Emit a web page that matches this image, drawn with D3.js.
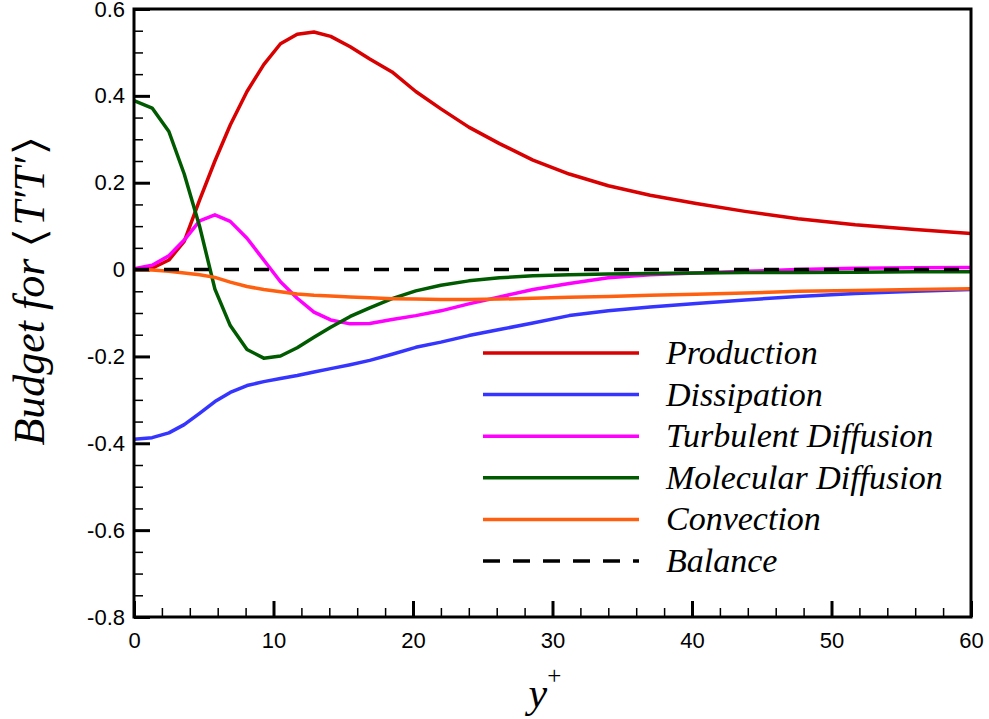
<!DOCTYPE html>
<html>
<head>
<meta charset="utf-8">
<script src="https://cdn.jsdelivr.net/npm/d3@7"></script>
<style>
  html, body { margin: 0; padding: 0; background: #fff; }
  svg { display: block; }
</style>
</head>
<body>
<svg id="chart" width="989" height="719"></svg>
<script>
// Wall-normal positions (y+) shared by all budget terms
const yPlus = [0, 1.3, 2.5, 3.6, 4.7, 5.8, 6.9, 8.1, 9.3, 10.5, 11.7, 12.9, 14.1, 15.5, 16.9,
  18.5, 20.2, 22, 24, 26.2, 28.6, 31.2, 34, 37, 40.3, 43.8, 47.6, 51.7, 56, 60];

// Budget terms for <T'T'>
const production = [0, 0.003, 0.022, 0.065, 0.16, 0.25, 0.333, 0.41, 0.472, 0.52, 0.542, 0.547, 0.537,
  0.513, 0.485, 0.455, 0.41, 0.37, 0.328, 0.29, 0.252, 0.22, 0.193, 0.171, 0.152, 0.134, 0.117, 0.103, 0.092, 0.083];
const dissipation = [-0.391, -0.387, -0.376, -0.357, -0.331, -0.304, -0.283, -0.267, -0.258, -0.251, -0.244,
  -0.236, -0.228, -0.219, -0.209, -0.195, -0.179, -0.167, -0.152, -0.138, -0.123, -0.106, -0.095, -0.086,
  -0.078, -0.070, -0.062, -0.055, -0.050, -0.046];
const turbulentDiffusion = [0.002, 0.01, 0.032, 0.068, 0.112, 0.126, 0.111, 0.072, 0.022, -0.028, -0.066,
  -0.098, -0.116, -0.125, -0.124, -0.115, -0.106, -0.095, -0.079, -0.063, -0.046, -0.032, -0.019, -0.012,
  -0.008, -0.004, 0.0, 0.003, 0.004, 0.005];
const molecularDiffusion = [0.389, 0.372, 0.318, 0.22, 0.10, -0.045, -0.129, -0.184, -0.204, -0.199, -0.18,
  -0.156, -0.133, -0.108, -0.088, -0.067, -0.049, -0.036, -0.026, -0.019, -0.014, -0.012, -0.010, -0.009,
  -0.008, -0.007, -0.007, -0.006, -0.005, -0.005];
const convection = [0, -0.001, -0.004, -0.008, -0.012, -0.018, -0.029, -0.039, -0.046, -0.051, -0.056,
  -0.059, -0.061, -0.063, -0.065, -0.067, -0.068, -0.069, -0.069, -0.068, -0.066, -0.064, -0.062, -0.059,
  -0.057, -0.054, -0.050, -0.048, -0.046, -0.044];
const balance = [0, 0, 0, 0, 0, 0, 0, 0, 0, 0, 0, 0, 0, 0, 0, 0, 0, 0, 0, 0, 0, 0, 0, 0, 0, 0, 0, 0, 0, 0];

const seriesNames = ["Production", "Dissipation", "Turbulent Diffusion", "Molecular Diffusion", "Convection", "Balance"];
const seriesValues = [production, dissipation, turbulentDiffusion, molecularDiffusion, convection, balance];
const seriesColors = ["#d80000", "#3535ff", "#ff00ff", "#005a00", "#ff6010", "#000000"];

const xTickValues = [0, 10, 20, 30, 40, 50, 60];
const xTickLabels = ["0", "10", "20", "30", "40", "50", "60"];
const yTickValues = [-0.8, -0.6, -0.4, -0.2, 0, 0.2, 0.4, 0.6];
const yTickLabels = ["-0.8", "-0.6", "-0.4", "-0.2", "0", "0.2", "0.4", "0.6"];

const plot = { left: 134, right: 971, top: 9, bottom: 617 };
const SERIF = '"Liberation Serif", "Times New Roman", Times, serif';
const SANS = '"Liberation Sans", Arial, Helvetica, sans-serif';

const svg = d3.select("#chart");
const x = d3.scaleLinear().domain([0, 60]).range([plot.left, plot.right]);
const y = d3.scaleLinear().domain([-0.8, 0.6]).range([plot.bottom, plot.top]);

// Minor ticks: every 2 in y+, every 0.05 in the budget
const xMinor = d3.range(0, 60.001, 2).filter(v => v % 10 !== 0);
const yMinor = d3.range(-16, 13).map(k => k * 0.05).filter((v, i) => (i % 4) !== 0);

function styleAxis(g) {
  g.attr("font-family", null).attr("font-size", null);
  g.select(".domain").remove();
  g.selectAll("text").style("font-family", SANS).style("font-size", "22px").attr("fill", "#000");
}

svg.append("g")
  .attr("transform", `translate(0,${plot.bottom})`)
  .call(d3.axisBottom(x).tickValues(xMinor).tickSize(-9).tickFormat(""))
  .call(g => { g.select(".domain").remove(); g.selectAll("line").attr("stroke", "#000").attr("stroke-width", 1.5); });

svg.append("g")
  .attr("transform", `translate(0,${plot.bottom})`)
  .call(d3.axisBottom(x).tickValues(xTickValues).tickSize(-16).tickPadding(15)
    .tickFormat((d, i) => xTickLabels[i]))
  .call(styleAxis)
  .call(g => g.selectAll("line").attr("stroke", "#000").attr("stroke-width", 3));

svg.append("g")
  .attr("transform", `translate(${plot.left},0)`)
  .call(d3.axisLeft(y).tickValues(yMinor).tickSize(-9).tickFormat(""))
  .call(g => { g.select(".domain").remove(); g.selectAll("line").attr("stroke", "#000").attr("stroke-width", 1.5); });

svg.append("g")
  .attr("transform", `translate(${plot.left},0)`)
  .call(d3.axisLeft(y).tickValues(yTickValues).tickSize(-16).tickPadding(9)
    .tickFormat((d, i) => yTickLabels[i]))
  .call(styleAxis)
  .call(g => g.selectAll("line").attr("stroke", "#000").attr("stroke-width", 3));

// Curves
svg.append("clipPath").attr("id", "plotClip")
  .append("rect")
  .attr("x", plot.left).attr("y", plot.top)
  .attr("width", plot.right - plot.left).attr("height", plot.bottom - plot.top);

const line = d3.line().x((d, i) => x(yPlus[i])).y(d => y(d));

const curves = svg.append("g").attr("clip-path", "url(#plotClip)");
seriesValues.forEach((vals, k) => {
  curves.append("path")
    .datum(vals)
    .attr("d", line)
    .attr("fill", "none")
    .attr("stroke", seriesColors[k])
    .attr("stroke-width", 3.5)
    .attr("stroke-linejoin", "round")
    .attr("stroke-dasharray", seriesNames[k] === "Balance" ? "15,15" : null);
});

// Frame
svg.append("rect")
  .attr("x", plot.left).attr("y", plot.top)
  .attr("width", plot.right - plot.left).attr("height", plot.bottom - plot.top)
  .attr("fill", "none").attr("stroke", "#000").attr("stroke-width", 3);

// Legend
const legend = svg.append("g");
const legendTop = 353, legendStep = 41.6;
seriesNames.forEach((name, k) => {
  const ly = legendTop + k * legendStep;
  legend.append("line")
    .attr("x1", 483).attr("x2", 639).attr("y1", ly).attr("y2", ly)
    .attr("stroke", seriesColors[k]).attr("stroke-width", 3.5)
    .attr("stroke-dasharray", name === "Balance" ? "17,13" : null);
  legend.append("text")
    .attr("x", 666).attr("y", ly + 11)
    .style("font-family", SERIF).style("font-style", "italic").style("font-size", "34px")
    .attr("fill", "#000")
    .text(name);
});

// Axis titles
const xTitle = svg.append("text")
  .attr("x", 545).attr("y", 707)
  .attr("text-anchor", "middle")
  .style("font-family", SERIF).style("font-size", "42px").attr("fill", "#000");
xTitle.append("tspan").style("font-style", "italic").text("y");
xTitle.append("tspan").style("font-size", "25px").attr("dy", -23).text("+");

svg.append("text")
  .attr("transform", "translate(44,292) rotate(-90)")
  .attr("text-anchor", "middle")
  .style("font-family", SERIF).style("font-size", "44px").attr("fill", "#000")
  .call(t => {
    t.append("tspan").style("font-style", "italic").text("Budget for");
    t.append("tspan").attr("dx", 14).text("\u2329");
    t.append("tspan").attr("dx", 4).style("font-style", "italic").text("T\u2032T\u2032");
    t.append("tspan").attr("dx", 4).text("\u232A");
  });
</script>
</body>
</html>
